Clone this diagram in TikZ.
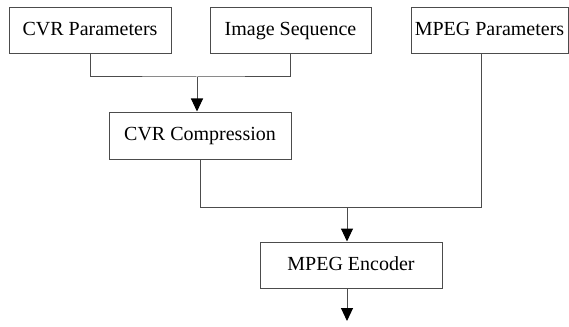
\documentclass[tikz,border=0pt]{standalone}
\usepackage{fontspec}
\setmainfont{Liberation Serif}
\usetikzlibrary{arrows.meta}
\begin{document}
\begin{tikzpicture}[x=1pt,y=1pt,
  box/.style={draw=black!70, line width=1pt, minimum height=46pt, inner sep=0pt, text height=14pt, text depth=4pt, font=\fontsize{20}{24}\selectfont},
  conn/.style={draw=black!70, line width=1pt},
  arr/.style={conn, arrows={-{Triangle[width=12pt,length=13pt,fill=black,color=black]}}}]
\useasboundingbox (0,0) rectangle (569,-326);
\node[box, minimum width=162pt] (cvrp) at (90,-31) {CVR Parameters};
\node[box, minimum width=161pt] (imgs) at (290.5,-31) {Image Sequence};
\node[box, minimum width=157pt] (mpegp) at (489.5,-31) {MPEG Parameters};
\node[box, minimum width=182pt, minimum height=47pt] (cvrc) at (200,-135.5) {CVR Compression};
\node[box, minimum width=182pt] (enc) at (351,-265) {MPEG Encoder};
\coordinate (j1) at (197,-77);
\coordinate (j2) at (347,-207);
\coordinate (out) at (347,-321);
\draw[conn] (cvrp.south) |- (j1) -| (imgs.south);
\draw[arr] (j1) -- (j1 |- cvrc.north);
\draw[conn] (cvrc.south) |- (j2);
\draw[conn] ([xshift=-8.5pt]mpegp.south) |- (j2);
\draw[arr] (j2) -- (j2 |- enc.north);
\draw[arr] (j2 |- enc.south) -- (out);
\end{tikzpicture}
\end{document}
